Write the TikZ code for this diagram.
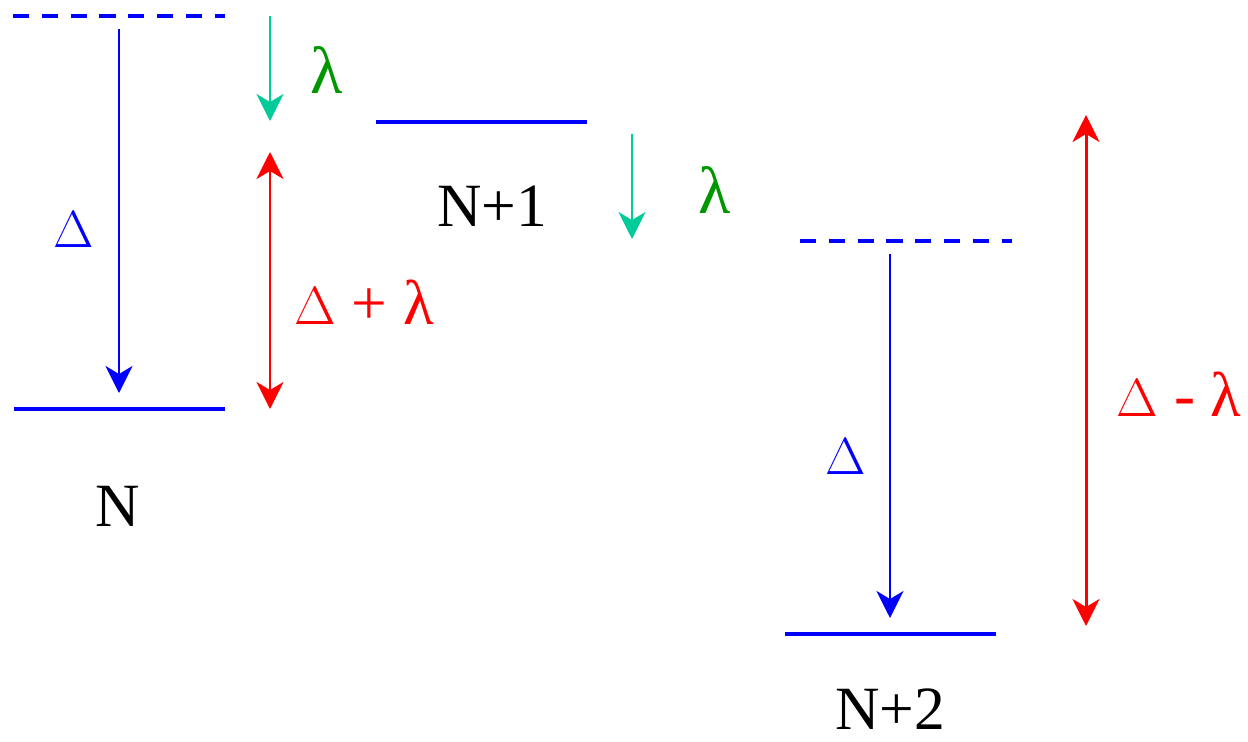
\documentclass[tikz,border=0pt]{standalone}
\usepackage{fontspec}
\setmainfont{Liberation Serif}
\newfontfamily\deltafont[Scale=0.85]{Latin Modern Roman}
\usepackage{xcolor}
\usetikzlibrary{positioning, arrows.meta, calc}
\definecolor{levelblue}{RGB}{0,0,255}
\definecolor{shiftteal}{RGB}{0,204,153}
\definecolor{lamgreen}{RGB}{0,150,0}
\definecolor{gapred}{RGB}{255,0,0}
\newcommand{\Dlt}{{\deltafont Δ}}
\begin{document}
\begin{tikzpicture}[x=0.02cm, y=-0.02cm,
  >={Stealth[length=0.54cm, width=0.54cm, inset=0.16cm]},
  level/.style={levelblue, line width=2.3pt},
  virtual/.style={levelblue, line width=2.1pt, dash pattern=on 9.2pt off 7.2pt},
  gaparrow/.style={levelblue, line width=1.5pt, ->},
  shiftarrow/.style={shiftteal, line width=1.5pt, ->},
  splitarrow/.style={gapred, line width=1.7pt, <->},
  lab/.style={font=\fontsize{35}{40}\selectfont, inner sep=0pt}]
\useasboundingbox (0,0) rectangle (1248,741);
% Level ends (left, right) for each ion count
\coordinate (vN0) at (13,16);   \coordinate (vN1) at (225,16);
\coordinate (N0)  at (14,409);  \coordinate (N1)  at (225,409);
\coordinate (P0)  at (376,122); \coordinate (P1)  at (587,122);
\coordinate (vQ0) at (800,241); \coordinate (vQ1) at (1012,241);
\coordinate (Q0)  at (785,634); \coordinate (Q1)  at (996,634);
% Levels
\draw[virtual] (vN0) -- (vN1);
\draw[level] (N0) -- (N1);
\draw[level] (P0) -- (P1);
\draw[virtual] (vQ0) -- (vQ1);
\draw[level] (Q0) -- (Q1);
% Arrow ends
\coordinate (dA0) at (119,29);   \coordinate (dA1) at (119,393);
\coordinate (dB0) at (890,254);  \coordinate (dB1) at (890,618);
\coordinate (sA0) at (270,16);   \coordinate (sA1) at (270,121);
\coordinate (sB0) at (632,134);  \coordinate (sB1) at (632,239);
\coordinate (rA0) at (270,152);  \coordinate (rA1) at (270,409);
\coordinate (rB0) at (1086,115); \coordinate (rB1) at (1086,626);
% Arrows
\draw[gaparrow] (dA0) -- (dA1);
\draw[gaparrow] (dB0) -- (dB1);
\draw[shiftarrow] (sA0) -- (sA1);
\draw[shiftarrow] (sB0) -- (sB1);
\draw[splitarrow] (rA0) -- (rA1);
\draw[splitarrow] (rB0) -- (rB1);
% Labels
\node[lab] (labN)  at (118,506) {N};
\node[lab] (labN1) at (492,206) {N+1};
\node[lab] (labN2) at (890,709) {N+2};
\node[lab, levelblue] (dltA) at (74,229) {\Dlt};
\node[lab, levelblue] (dltB) at (846,456) {\Dlt};
\node[lab, lamgreen, font=\fontsize{38}{42}\selectfont] (lamA) at (327,70) {λ};
\node[lab, lamgreen, font=\fontsize{38}{42}\selectfont] (lamB) at (715,190) {λ};
\node[lab, gapred, font=\fontsize{36}{40}\selectfont, anchor=west] (sumA) at (294,302) {\Dlt{} + λ};
\node[lab, gapred, font=\fontsize{36}{40}\selectfont, anchor=east] (difB) at (1242,394) {\Dlt{} - λ};
\end{tikzpicture}
\end{document}
